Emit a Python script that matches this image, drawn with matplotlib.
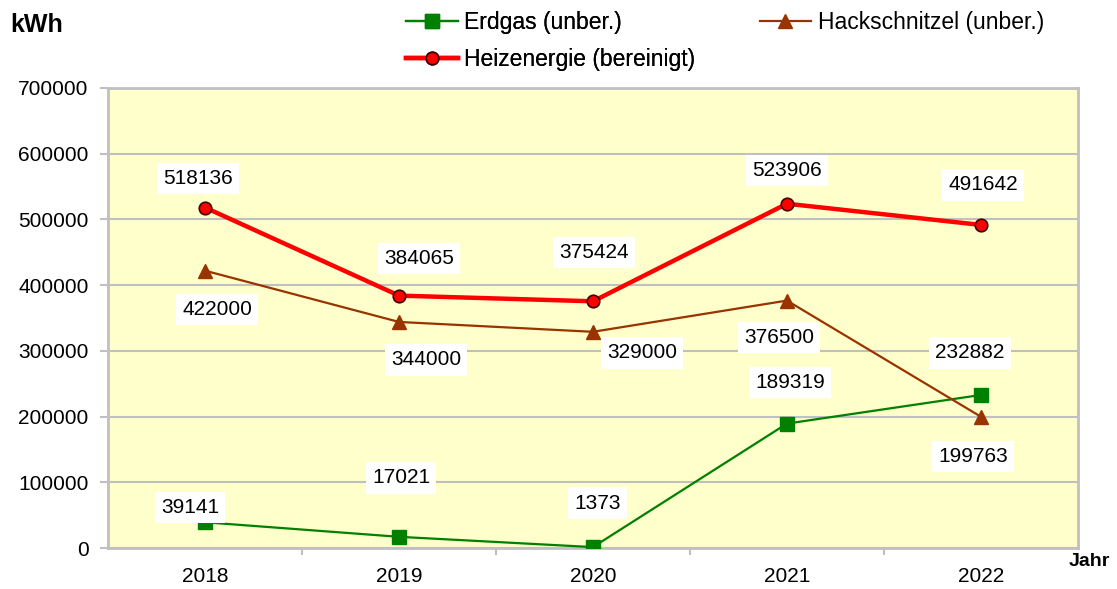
import matplotlib.pyplot as plt

plt.rcParams['font.family'] = ['Liberation Sans', 'DejaVu Sans']

# Daten
jahre = ['2018', '2019', '2020', '2021', '2022']
erdgas = [39141, 17021, 1373, 189319, 232882]
hackschnitzel = [422000, 344000, 329000, 376500, 199763]
heizenergie = [518136, 384065, 375424, 523906, 491642]

# Label-Versatz in Pixeln (dx, dy)
off_erdgas = [(-15, 15), (2, 59), (5, 44), (3, 41), (-11, 42)]
off_hack = [(12, -39), (27, -38), (49, -21), (-8, -37), (-8, -40)]
off_heiz = [(-7, 29), (20, 37), (1, 49), (0, 33), (2, 40)]

grau = '#c0c0c0'
gruen = '#008000'
braun = '#993300'
rot = '#ff0000'

fig = plt.figure(figsize=(11.17, 5.89), dpi=100)
ax = fig.add_axes([0.0967, 0.0696, 0.8683, 0.781])
ax.set_facecolor('#ffffcc')

x = list(range(len(jahre)))

l1, = ax.plot(x, erdgas, color=gruen, lw=1.6, marker='s', ms=10,
              mfc=gruen, mec=gruen, zorder=3, label='Erdgas (unber.)')
l2, = ax.plot(x, hackschnitzel, color=braun, lw=1.6, marker='^', ms=10,
              mfc=braun, mec=braun, zorder=3, label='Hackschnitzel (unber.)')
l3, = ax.plot(x, heizenergie, color=rot, lw=3.2, marker='o', ms=9,
              mfc=rot, mec='#400000', mew=1.2, zorder=4, label='Heizenergie (bereinigt)')

for werte, offs in [(erdgas, off_erdgas), (hackschnitzel, off_hack), (heizenergie, off_heiz)]:
    for xi, v, (dx, dy) in zip(x, werte, offs):
        ax.annotate(str(v), (xi, v), xytext=(dx, dy), textcoords='offset pixels',
                    ha='center', va='center', fontsize=15, zorder=6,
                    bbox=dict(boxstyle='square,pad=0.3', fc='white', ec='none'))

ax.set_xlim(-0.5, 4.5)
ax.set_ylim(0, 700000)
ax.set_yticks(range(0, 700001, 100000))
ax.set_yticklabels([str(v) for v in range(0, 700001, 100000)], fontsize=15)
ax.set_xticks(x)
ax.set_xticklabels(jahre, fontsize=15)
ax.tick_params(axis='x', length=0, pad=14)
ax.set_xticks([0.5, 1.5, 2.5, 3.5], minor=True)
ax.tick_params(axis='x', which='minor', length=5, width=1.5, color=grau)
ax.tick_params(axis='y', length=6, width=1.5, color=grau, pad=8)

ax.yaxis.grid(True, color=grau, lw=1.5)
ax.set_axisbelow(True)
for s in ax.spines.values():
    s.set_color(grau)
    s.set_linewidth(2)

fig.text(0.009, 0.958, 'kWh', fontsize=18, fontweight='bold', va='center', ha='left')
fig.text(0.994, 0.047, 'Jahr', fontsize=14, fontweight='bold', va='center', ha='right')

leg1 = fig.legend(handles=[l1, l3], loc='upper left', bbox_to_anchor=(0.3635, 0.982),
                  frameon=False, fontsize=16.5, handlelength=2.25, handletextpad=0.3,
                  labelspacing=0.65, borderpad=0, borderaxespad=0, numpoints=1)
fig.add_artist(leg1)
fig.legend(handles=[l2], loc='upper left', bbox_to_anchor=(0.680, 0.982),
           frameon=False, fontsize=16.5, handlelength=2.25, handletextpad=0.3,
           borderpad=0, borderaxespad=0, numpoints=1)

fig.savefig('out.png', dpi=100)
